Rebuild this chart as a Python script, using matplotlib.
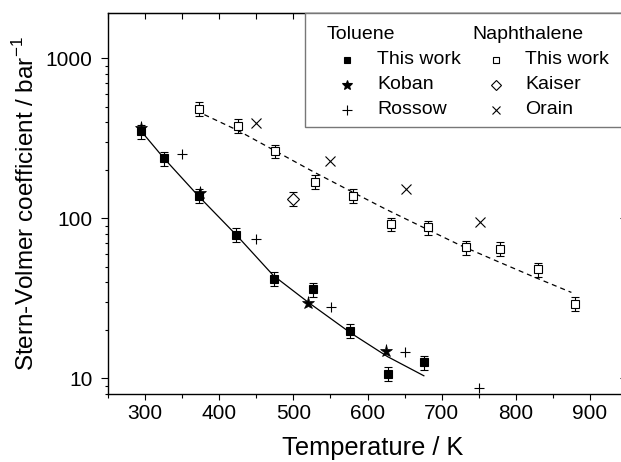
import matplotlib
matplotlib.use("Agg")
import matplotlib.pyplot as plt
from matplotlib.patches import Rectangle
from matplotlib.ticker import LogLocator, NullFormatter, MultipleLocator, FixedLocator, FixedFormatter

plt.rcParams['font.family'] = ['Liberation Sans', 'DejaVu Sans']
plt.rcParams['mathtext.fontset'] = 'custom'
plt.rcParams['mathtext.rm'] = 'Liberation Sans'

# toluene, this work
tol_T = [295, 325, 373, 423, 474, 527, 577, 627, 676]
tol_k = [350, 237, 138, 79, 42, 36, 19.8, 10.7, 12.6]
tol_err = [35, 24, 14, 8, 4.2, 3.6, 2.0, 1.1, 1.3]
# toluene, literature
koban_T = [295, 374, 520, 625]
koban_k = [366, 145, 29.7, 14.8]
rossow_T = [350, 450, 551, 651, 751]
rossow_k = [254, 74, 28, 14.7, 8.7]
# naphthalene, this work
naph_T = [373, 425, 475, 529, 581, 632, 682, 733, 779, 830, 880]
naph_k = [485, 380, 263, 169, 139, 92, 88, 66, 64.7, 48, 29.4]
naph_err = [48, 38, 26, 17, 14, 9, 8.8, 6.6, 6.5, 4.8, 2.9]
# naphthalene, literature
kaiser_T = [500]
kaiser_k = [133]
kaiser_err = [13]
orain_T = [450, 550, 652, 752]
orain_k = [396, 230, 153, 95]
# fit curves
tol_fit_T = [295, 325, 372, 424, 473, 521, 577, 627, 676]
tol_fit_k = [350, 239, 138, 78, 44, 29.7, 19.3, 13.7, 10.4]
naph_fit_T = [380, 425, 475, 525, 575, 625, 675, 725, 775, 825, 875]
naph_fit_k = [445, 355, 265, 198, 150, 114, 88, 68, 54, 43, 34.5]

W, H = 621, 462
fig = plt.figure(figsize=(W/100, H/100), dpi=100)
ax = fig.add_axes([108/W, 1-394/H, (627-108)/W, (394-12.7)/H])

ax.plot(tol_fit_T, tol_fit_k, '-', color='black', lw=0.9, zorder=1)
ax.plot(naph_fit_T, naph_fit_k, color='black', lw=0.9, dashes=(4.0, 3.2), zorder=1)

eb = dict(fmt='none', ecolor='black', elinewidth=0.8, capsize=3.2, capthick=0.8, zorder=2)
ax.errorbar(tol_T, tol_k, yerr=tol_err, **eb)
ax.errorbar(naph_T, naph_k, yerr=naph_err, **eb)
ax.errorbar(kaiser_T, kaiser_k, yerr=kaiser_err, **eb)

ax.plot(tol_T, tol_k, 's', ms=6, mfc='black', mec='black', mew=0.8, ls='none', zorder=3)
ax.plot(naph_T, naph_k, 's', ms=6, mfc='white', mec='black', mew=0.8, ls='none', zorder=3)
ax.plot(kaiser_T, kaiser_k, 'D', ms=5.8, mfc='white', mec='black', mew=0.8, ls='none', zorder=3)
ax.plot(koban_T, koban_k, '*', ms=9.5, mfc='black', mec='black', mew=0.5, ls='none', zorder=4)
ax.plot(rossow_T, rossow_k, '+', ms=7.5, color='black', mew=0.8, ls='none', zorder=4)
ax.plot(orain_T, orain_k, 'x', ms=7.5, color='black', mew=0.8, ls='none', zorder=4)

ax.set_yscale('log')
ax.set_xlim(250, 950)
ax.set_ylim(8, 1930)
ax.xaxis.set_major_locator(FixedLocator([300, 400, 500, 600, 700, 800, 900]))
ax.xaxis.set_minor_locator(MultipleLocator(50))
ax.yaxis.set_major_locator(FixedLocator([10, 100, 1000]))
ax.yaxis.set_major_formatter(FixedFormatter(['10', '100', '1000']))
ax.yaxis.set_minor_locator(LogLocator(base=10, subs=range(2, 10)))
ax.yaxis.set_minor_formatter(NullFormatter())

ax.tick_params(which='both', labelsize=15, width=0.8)
ax.tick_params(axis='x', which='major', direction='out', length=4.5, pad=3)
ax.tick_params(axis='x', which='minor', direction='out', length=3)
ax.tick_params(axis='y', which='major', direction='out', length=5, pad=6)
ax.tick_params(axis='y', which='minor', direction='out', length=2.5)
for sp in ax.spines.values():
    sp.set_linewidth(1.0)

# inward ticks on top and right
top = ax.secondary_xaxis('top')
top.xaxis.set_major_locator(MultipleLocator(50))
top.tick_params(direction='in', length=4, width=0.8, labeltop=False)
right = ax.secondary_yaxis('right')
right.yaxis.set_major_locator(FixedLocator([10, 100, 1000]))
right.yaxis.set_minor_locator(LogLocator(base=10, subs=range(2, 10)))
right.tick_params(which='major', direction='in', length=5, width=0.8, labelright=False)
right.tick_params(which='minor', direction='in', length=2.5, width=0.8, labelright=False)

ax.set_xlabel('Temperature / K', fontsize=18.3)
ax.xaxis.set_label_coords((373-108)/519, -0.11)
ax.set_ylabel(r'Stern-Volmer coefficient / bar$^{\mathregular{-1}}$', fontsize=17.5)
ax.yaxis.set_label_coords((39-108)/519, 0.5)

# legend drawn by hand in pixel positions
def fpx(x, y):
    return x / W, 1 - y / H

tf = fig.transFigure
x0, y0 = fpx(305, 126.7)
x1, y1 = fpx(640, 12.7)
fig.add_artist(Rectangle((x0, y0), x1 - x0, y1 - y0, transform=tf,
                         facecolor='white', edgecolor='#777777', lw=1.0, zorder=5))
fs = 14
rows = [34.5, 60, 85, 109.5]
fig.text(*fpx(326.7, rows[0]), 'Toluene', fontsize=fs, va='center', ha='left', zorder=6)
fig.text(*fpx(472.7, rows[0]), 'Naphthalene', fontsize=fs, va='center', ha='left', zorder=6)
col1 = [('s', dict(mfc='black', ms=5)), ('*', dict(mfc='black', ms=7.5)), ('+', dict(ms=6.5))]
col2 = [('s', dict(mfc='white', ms=5)), ('D', dict(mfc='white', ms=4.6)), ('x', dict(ms=6))]
lab1 = ['This work', 'Koban', 'Rossow']
lab2 = ['This work', 'Kaiser', 'Orain']
for i in range(3):
    yy = rows[i + 1]
    m, kw = col1[i]
    fig.add_artist(plt.Line2D([fpx(346.7, yy)[0]], [fpx(346.7, yy)[1]], marker=m, color='black',
                              mec='black', mew=0.8, ls='none', transform=tf, zorder=6, **kw))
    fig.text(*fpx(377.3, yy), lab1[i], fontsize=fs, va='center', ha='left', zorder=6)
    m, kw = col2[i]
    fig.add_artist(plt.Line2D([fpx(495.7, yy)[0]], [fpx(495.7, yy)[1]], marker=m, color='black',
                              mec='black', mew=0.8, ls='none', transform=tf, zorder=6, **kw))
    fig.text(*fpx(525, yy), lab2[i], fontsize=fs, va='center', ha='left', zorder=6)

fig.savefig('out.png', dpi=100)
